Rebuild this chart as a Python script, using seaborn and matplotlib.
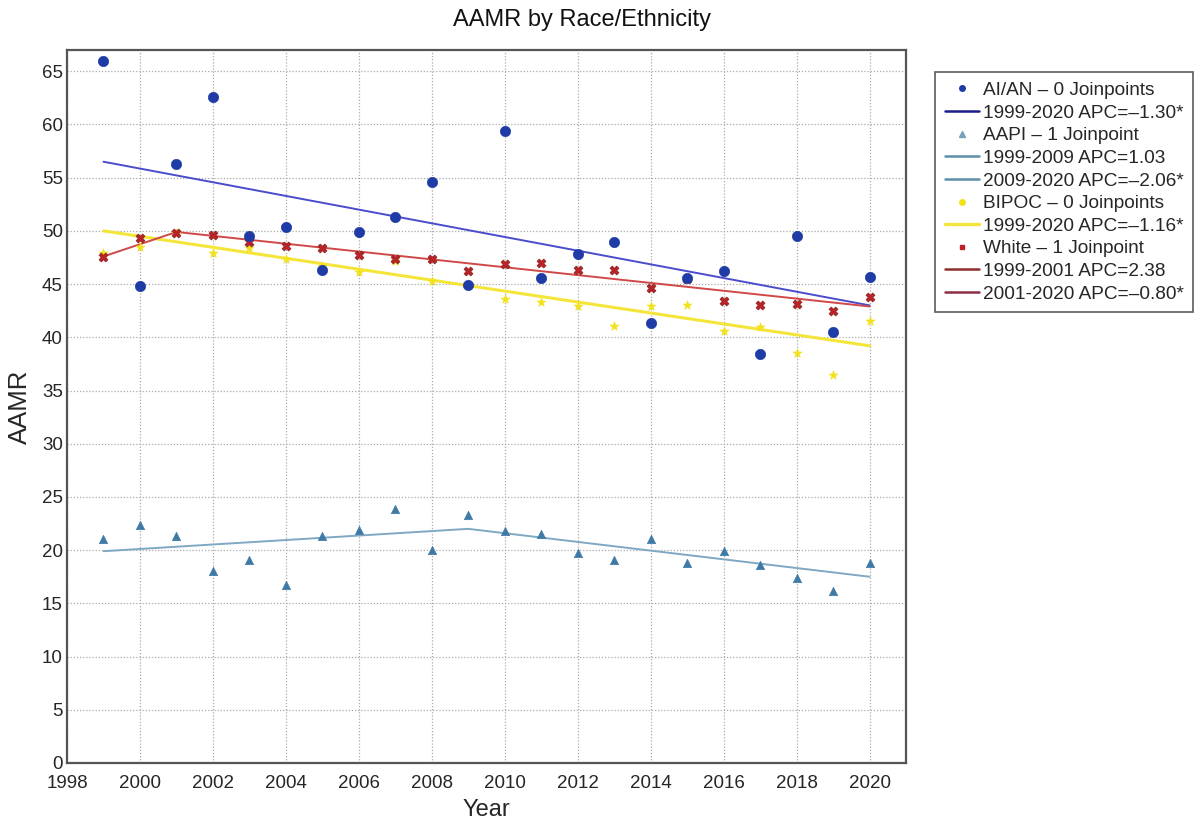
import numpy as np
import pandas as pd
import matplotlib
matplotlib.use("Agg")
import matplotlib.pyplot as plt
from matplotlib.lines import Line2D
import seaborn as sns

years = list(range(1999, 2021))

aian = [66.0, 44.8, 56.3, 62.6, 49.5, 50.4, 46.3, 49.9, 51.3, 54.6, 44.9,
        59.4, 45.6, 47.8, 49.0, 41.3, 45.6, 46.2, 38.4, 49.5, 40.5, 45.7]
aapi = [21.0, 22.4, 21.3, 18.0, 19.1, 16.7, 21.3, 21.9, 23.9, 20.0, 23.3,
        21.8, 21.5, 19.7, 19.1, 21.0, 18.8, 19.9, 18.6, 17.4, 16.2, 18.8]
bipoc = [47.9, 48.5, 49.8, 47.9, 48.4, 47.4, 46.7, 46.1, 47.2, 45.3, 45.0,
         43.6, 43.3, 42.9, 41.1, 42.9, 43.0, 40.6, 41.0, 38.5, 36.5, 41.5]
white = [47.5, 49.3, 49.8, 49.6, 49.0, 48.6, 48.4, 47.7, 47.4, 47.4, 46.2,
         46.9, 47.0, 46.3, 46.3, 44.6, 45.5, 43.4, 43.0, 43.1, 42.5, 43.8]

# Joinpoint fitted values at segment nodes
aian_fit_years = [1999, 2020]
aian_fit = [56.5, 43.0]
aapi_fit_years = [1999, 2009, 2020]
aapi_fit = [19.9, 22.0, 17.5]
bipoc_fit_years = [1999, 2020]
bipoc_fit = [50.0, 39.2]
white_fit_years = [1999, 2001, 2020]
white_fit = [47.6, 49.9, 42.9]

legend_labels = [
    "AI/AN \u2013 0 Joinpoints", "1999-2020 APC=\u20131.30*",
    "AAPI \u2013 1 Joinpoint", "1999-2009 APC=1.03", "2009-2020 APC=\u20132.06*",
    "BIPOC \u2013 0 Joinpoints", "1999-2020 APC=\u20131.16*",
    "White \u2013 1 Joinpoint", "1999-2001 APC=2.38", "2001-2020 APC=\u20130.80*",
]

sns.set_style("white")
plt.rcParams['font.family'] = ['Liberation Sans', 'DejaVu Sans']

fig = plt.figure(figsize=(12.01, 8.25), dpi=100)
ax = fig.add_axes([0.0558, 0.0752, 0.6986, 0.8642])

c_aian_pt = "#1f3ca6"
c_aian_ln = "#4a4ccc"
c_aapi_pt = "#3f7aa6"
c_aapi_ln = "#7fa8c2"
c_bipoc_pt = "#f2e21c"
c_bipoc_ln = "#f4e53a"
c_white_pt = "#c0202a"
c_white_ln = "#d04848"

# trend lines
sns.lineplot(x=aian_fit_years, y=aian_fit, ax=ax, color=c_aian_ln, lw=1.4, zorder=2)
sns.lineplot(x=aapi_fit_years, y=aapi_fit, ax=ax, color=c_aapi_ln, lw=1.4, zorder=2)
sns.lineplot(x=bipoc_fit_years, y=bipoc_fit, ax=ax, color=c_bipoc_ln, lw=2.2, zorder=2)
sns.lineplot(x=white_fit_years, y=white_fit, ax=ax, color=c_white_ln, lw=1.4, zorder=2)

# points
sns.scatterplot(x=years, y=bipoc, ax=ax, color=c_bipoc_pt, marker="*", s=45,
                edgecolor=c_bipoc_pt, linewidth=0.5, zorder=3)
sns.scatterplot(x=years, y=white, ax=ax, color=c_white_pt, marker="X", s=40,
                edgecolor="#8a2a20", linewidth=0.6, zorder=4)
sns.scatterplot(x=years, y=aapi, ax=ax, color=c_aapi_pt, marker="^", s=36,
                edgecolor=c_aapi_pt, linewidth=0.5, zorder=3)
sns.scatterplot(x=years, y=aian, ax=ax, color=c_aian_pt, marker="o", s=55,
                edgecolor=c_aian_pt, linewidth=0.5, zorder=5)

ax.set_xlim(1998, 2021)
ax.set_ylim(0, 67)
ax.set_xticks(list(range(1998, 2021, 2)))
ax.set_yticks(list(range(0, 66, 5)))
ax.tick_params(axis='both', labelsize=13.5, length=0)
ax.tick_params(axis='x', pad=9)
ax.tick_params(axis='y', pad=3)
ax.grid(True, linestyle=(0, (1, 1.5)), color="#aaaaaa", linewidth=0.9)
ax.set_axisbelow(True)
for sp in ax.spines.values():
    sp.set_color("#555555")
    sp.set_linewidth(1.6)

ax.set_xlabel("Year", fontsize=17, labelpad=5)
ax.set_ylabel("AAMR", fontsize=18.5, labelpad=7)
ax.set_title("AAMR by Race/Ethnicity", fontsize=17, pad=17, x=0.614, color="#111111")

handles = [
    Line2D([], [], ls="none", marker="o", color=c_aian_pt, ms=4),
    Line2D([], [], color="#1c1c88", lw=1.8),
    Line2D([], [], ls="none", marker="^", color="#7aa0b8", ms=4),
    Line2D([], [], color="#5f8ea8", lw=1.8),
    Line2D([], [], color="#5f8ea8", lw=1.8),
    Line2D([], [], ls="none", marker="o", color=c_bipoc_pt, ms=4),
    Line2D([], [], color=c_bipoc_ln, lw=2.4),
    Line2D([], [], ls="none", marker="s", color=c_white_pt, ms=3.5),
    Line2D([], [], color="#8e2f2a", lw=1.8),
    Line2D([], [], color="#8a2f45", lw=1.8),
]
leg = ax.legend(handles, legend_labels, loc="upper left",
                bbox_to_anchor=(1.0346, 0.969), fontsize=13.7, frameon=True,
                fancybox=False, edgecolor="#333333", handlelength=1.8,
                handletextpad=0.2, labelspacing=0.28, borderpad=0.5,
                borderaxespad=0)
leg.get_frame().set_linewidth(1.2)

fig.savefig("out.png", dpi=100)
